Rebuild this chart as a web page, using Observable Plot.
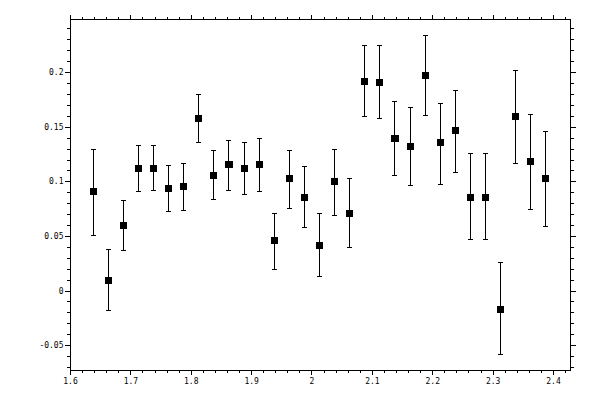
<!DOCTYPE html>
<html>
<head>
<meta charset="utf-8">
<script src="https://cdn.jsdelivr.net/npm/d3@7"></script>
<script src="https://cdn.jsdelivr.net/npm/@observablehq/plot@0.6"></script>
<style>
  html, body { margin: 0; padding: 0; background: #fff; }
  svg line, svg path, svg rect { shape-rendering: crispEdges; }
</style>
</head>
<body>
<div id="chart"></div>
<script>
// x positions of the measurements
const xs = [1.6375, 1.6625, 1.6875, 1.7125, 1.7375, 1.7625, 1.7875, 1.8125,
            1.8375, 1.8625, 1.8875, 1.9125, 1.9375, 1.9625, 1.9875, 2.0125,
            2.0375, 2.0625, 2.0875, 2.1125, 2.1375, 2.1625, 2.1875, 2.2125,
            2.2375, 2.2625, 2.2875, 2.3125, 2.3375, 2.3625, 2.3875];
// central values
const values = [0.091, 0.010, 0.060, 0.112, 0.112, 0.094, 0.096, 0.158,
                0.106, 0.116, 0.112, 0.116, 0.046, 0.103, 0.086, 0.042,
                0.100, 0.071, 0.192, 0.191, 0.140, 0.132, 0.197, 0.136,
                0.147, 0.086, 0.086, -0.017, 0.160, 0.119, 0.103];
// upper ends of error bars
const upper = [0.130, 0.038, 0.083, 0.133, 0.133, 0.115, 0.117, 0.180,
               0.129, 0.138, 0.136, 0.140, 0.071, 0.129, 0.114, 0.071,
               0.130, 0.103, 0.225, 0.225, 0.174, 0.168, 0.234, 0.172,
               0.184, 0.126, 0.126, 0.026, 0.202, 0.162, 0.146];
// lower ends of error bars
const lower = [0.051, -0.018, 0.037, 0.091, 0.092, 0.073, 0.074, 0.136,
               0.084, 0.092, 0.088, 0.091, 0.020, 0.076, 0.058, 0.013,
               0.069, 0.040, 0.160, 0.158, 0.106, 0.097, 0.161, 0.098,
               0.109, 0.047, 0.047, -0.058, 0.117, 0.075, 0.059];

const xTicks = [1.6, 1.7, 1.8, 1.9, 2.0, 2.1, 2.2, 2.3, 2.4];
const xTickLabels = ["1.6", "1.7", "1.8", "1.9", "2", "2.1", "2.2", "2.3", "2.4"];
const yTicks = [-0.05, 0, 0.05, 0.1, 0.15, 0.2];
const yTickLabels = ["-0.05", "0", "0.05", "0.1", "0.15", "0.2"];
const xMinor = d3.range(0, 42).map(i => +(1.6 + i * 0.02).toFixed(2)).filter(v => v <= 2.428);
const yMinor = d3.range(-7, 25).map(i => +(i * 0.01).toFixed(2));

const data = xs.map((x, i) => ({x, v: values[i], hi: upper[i], lo: lower[i]}));

const capSymbol = {
  draw(context, size) {
    const r = Math.sqrt(size / Math.PI);
    context.moveTo(-r, 0);
    context.lineTo(r, 0);
  }
};

const xLab = d => xTickLabels[xTicks.findIndex(t => Math.abs(t - d) < 1e-9)] ?? "";
const yLab = d => yTickLabels[yTicks.findIndex(t => Math.abs(t - d) < 1e-9)] ?? "";

const chart = Plot.plot({
  width: 600,
  height: 400,
  marginLeft: 70,
  marginRight: 30,
  marginTop: 19,
  marginBottom: 30,
  style: {fontFamily: "'DejaVu Sans Mono', monospace", fontSize: "8px", color: "#000", background: "#fff"},
  x: {domain: [1.6, 2.4282]},
  y: {domain: [-0.0728, 0.2487]},
  marks: [
    Plot.frame({stroke: "#000", strokeWidth: 1}),
    // bottom axis
    Plot.axisX({anchor: "bottom", ticks: xTicks, tickSize: 5, tickPadding: 3, tickFormat: xLab, label: null, stroke: "#000", fill: "#000"}),
    Plot.axisX({anchor: "bottom", ticks: xMinor, tickSize: 3, tickFormat: () => "", label: null, stroke: "#000"}),
    // top axis
    Plot.axisX({anchor: "top", ticks: xTicks, tickSize: 5, tickFormat: () => "", label: null, stroke: "#000"}),
    Plot.axisX({anchor: "top", ticks: xMinor, tickSize: 3, tickFormat: () => "", label: null, stroke: "#000"}),
    // left axis
    Plot.axisY({anchor: "left", ticks: yTicks, tickSize: 5, tickPadding: 2, tickFormat: yLab, label: null, stroke: "#000", fill: "#000"}),
    Plot.axisY({anchor: "left", ticks: yMinor, tickSize: 3, tickFormat: () => "", label: null, stroke: "#000"}),
    // right axis
    Plot.axisY({anchor: "right", ticks: yTicks, tickSize: 5, tickFormat: () => "", label: null, stroke: "#000"}),
    Plot.axisY({anchor: "right", ticks: yMinor, tickSize: 3, tickFormat: () => "", label: null, stroke: "#000"}),
    // error bars
    Plot.ruleX(data, {x: "x", y1: "lo", y2: "hi", stroke: "#000", strokeWidth: 1}),
    Plot.dot(data, {x: "x", y: "hi", symbol: capSymbol, r: 2.5, stroke: "#000", strokeWidth: 1, fill: "none"}),
    Plot.dot(data, {x: "x", y: "lo", symbol: capSymbol, r: 2.5, stroke: "#000", strokeWidth: 1, fill: "none"}),
    // markers
    Plot.dot(data, {x: "x", y: "v", symbol: "square", r: 4, fill: "#000", stroke: "none"})
  ]
});
document.getElementById("chart").appendChild(chart);
</script>
</body>
</html>
